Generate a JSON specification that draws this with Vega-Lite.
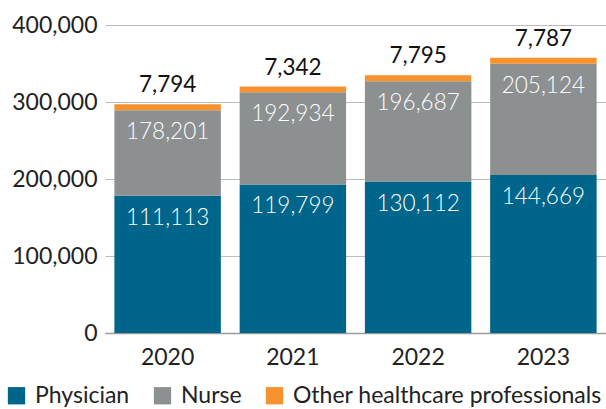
{
  "$schema": "https://vega.github.io/schema/vega-lite/v6.json",
  "width": 501,
  "height": 308,
  "autosize": "none",
  "padding": {"left": 105, "top": 25, "right": 0, "bottom": 76},
  "background": "white",
  "config": {
    "font": "Lato",
    "view": {"stroke": null},
    "axis": {"labelFont": "Lato", "labelFontSize": 23, "labelColor": "#222222"}
  },
  "data": {
    "values": [
      {"year": "2020", "category": "Physician", "rank": 1, "value": 178201, "label": 111113},
      {"year": "2020", "category": "Nurse", "rank": 2, "value": 111113, "label": 178201},
      {"year": "2020", "category": "Other healthcare professionals", "rank": 3, "value": 7794, "label": 7794},
      {"year": "2021", "category": "Physician", "rank": 1, "value": 192934, "label": 119799},
      {"year": "2021", "category": "Nurse", "rank": 2, "value": 119799, "label": 192934},
      {"year": "2021", "category": "Other healthcare professionals", "rank": 3, "value": 7342, "label": 7342},
      {"year": "2022", "category": "Physician", "rank": 1, "value": 196687, "label": 130112},
      {"year": "2022", "category": "Nurse", "rank": 2, "value": 130112, "label": 196687},
      {"year": "2022", "category": "Other healthcare professionals", "rank": 3, "value": 7795, "label": 7795},
      {"year": "2023", "category": "Physician", "rank": 1, "value": 205124, "label": 144669},
      {"year": "2023", "category": "Nurse", "rank": 2, "value": 144669, "label": 205124},
      {"year": "2023", "category": "Other healthcare professionals", "rank": 3, "value": 7787, "label": 7787}
    ]
  },
  "transform": [
    {"stack": "value", "groupby": ["year"], "sort": [{"field": "rank", "order": "ascending"}], "as": ["y0", "y1"]}
  ],
  "encoding": {
    "x": {
      "field": "year", "type": "nominal", "title": null,
      "scale": {"paddingInner": 0.15, "paddingOuter": 0.075},
      "axis": {"labelAngle": 0, "ticks": false, "domainColor": "#9a9a9a", "domainWidth": 1.5, "labelPadding": 13}
    },
    "y": {
      "field": "y1", "type": "quantitative", "title": null,
      "scale": {"domain": [0, 400000]},
      "axis": {"values": [0, 100000, 200000, 300000, 400000], "format": ",d", "domain": false, "ticks": false, "labelPadding": 8, "gridColor": "#bdbdbd", "gridWidth": 1.2}
    }
  },
  "layer": [
    {
      "mark": {"type": "bar"},
      "encoding": {
        "y2": {"field": "y0"},
        "color": {
          "field": "category", "type": "nominal",
          "scale": {"domain": ["Physician", "Nurse", "Other healthcare professionals"], "range": ["#00658a", "#8d9091", "#f6932e"]},
          "legend": {
            "title": null, "orient": "none", "direction": "horizontal",
            "legendX": -100, "legendY": 359,
            "symbolType": "square", "symbolSize": 300, "symbolStrokeWidth": 0,
            "labelFontSize": 23, "labelFont": "Lato", "labelColor": "#222222", "labelLimit": 400,
            "labelOffset": 7, "columnPadding": 21
          }
        }
      }
    },
    {
      "transform": [{"filter": "datum.rank < 3"}],
      "mark": {"type": "text", "color": "white", "fontSize": 22.5, "fontWeight": 300, "baseline": "middle", "dy": 22},
      "encoding": {
        "text": {"field": "label", "type": "quantitative", "format": ","}
      }
    },
    {
      "transform": [{"filter": "datum.rank == 3"}],
      "mark": {"type": "text", "color": "#111111", "fontSize": 22.5, "baseline": "middle", "dy": -19},
      "encoding": {
        "text": {"field": "label", "type": "quantitative", "format": ","}
      }
    }
  ]
}
